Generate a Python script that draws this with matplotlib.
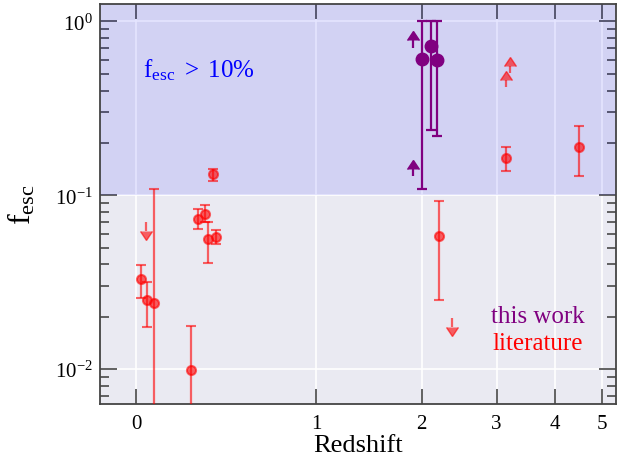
import numpy as np
import matplotlib.pyplot as plt
from matplotlib.ticker import NullLocator

plt.rcParams['font.family'] = 'Liberation Serif'
plt.rcParams['mathtext.fontset'] = 'custom'
plt.rcParams['mathtext.rm'] = 'Liberation Serif'
plt.rcParams['mathtext.it'] = 'Liberation Serif:italic'

# this work: measurements with error bars
tw_z = [2.00, 2.105, 2.175]
tw_f = [0.612, 0.718, 0.599]
tw_lo = [0.109, 0.239, 0.219]
tw_hi = [1.0, 1.0, 1.0]

# this work: lower limits
tw_lim_z = [1.90, 1.90]
tw_lim_f = [0.708, 0.129]

# literature: measurements with error bars
lit_z = [0.02, 0.043, 0.069, 0.234, 0.268, 0.302, 0.317, 0.343, 0.357, 2.20, 3.146, 4.50]
lit_f = [0.0328, 0.0249, 0.0239, 0.00987, 0.0734, 0.0777, 0.0558, 0.132, 0.0575, 0.0583, 0.163, 0.189]
lit_lo = [0.0258, 0.0175, 0.001, 0.001, 0.0637, 0.0702, 0.0406, 0.1204, 0.0522, 0.0249, 0.1387, 0.129]
lit_hi = [0.0397, 0.0318, 0.108, 0.0178, 0.0838, 0.0879, 0.0702, 0.1424, 0.0629, 0.0927, 0.190, 0.2495]

# literature: lower limits and upper limits
lit_ll_z = [3.21, 3.15]
lit_ll_f = [0.502, 0.417]
lit_ul_z = [0.0365, 2.376]
lit_ul_f = [0.0706, 0.0198]


def limit_arrows(ax, z, f, up, color, alpha=1.0, zorder=3):
    # short shaft + caret head, like errorbar limits but without the end cap
    fac = 1.1 if up else 0.88
    tip = np.multiply(f, fac)
    ax.vlines(z, f, tip, color=color, lw=1.6, alpha=alpha, zorder=zorder)
    ax.plot(z, tip, ls='none', marker=10 if up else 11, ms=8.5,
            color=color, alpha=alpha, zorder=zorder)


fig = plt.figure(figsize=(6.18, 4.6), dpi=100)
ax = fig.add_axes([100 / 618, 55 / 460, 515.5 / 618, 400 / 460])
ax.set_facecolor('#EAEAF2')
ax.set_axisbelow(True)

# redshift axis is linear in log(1+z)
ax.set_xscale('function', functions=(lambda z: np.log10(1 + z), lambda u: 10 ** u - 1))
ax.set_yscale('log')

ax.axhspan(0.1, 10, color='blue', alpha=0.1, lw=0, zorder=1)

ekw = dict(capsize=3.6, elinewidth=1.6, capthick=1.6)

# literature
ax.errorbar(lit_z, lit_f,
            yerr=[np.subtract(lit_f, lit_lo), np.subtract(lit_hi, lit_f)],
            fmt='o', color='red', alpha=0.6, ms=6.5, mew=1.5, zorder=3, **ekw)
limit_arrows(ax, lit_ll_z, lit_ll_f, True, 'red', alpha=0.6)
limit_arrows(ax, lit_ul_z, lit_ul_f, False, 'red', alpha=0.6)

# this work
ax.errorbar(tw_z, tw_f,
            yerr=[np.subtract(tw_f, tw_lo), np.subtract(tw_hi, tw_f)],
            fmt='o', color='purple', ms=9, zorder=4, **ekw)
limit_arrows(ax, tw_lim_z, tw_lim_f, True, 'purple', zorder=4)

ax.set_xlim(-0.13, 5.32)
ax.set_ylim(6.3e-3, 1.26)
ax.set_xticks([0, 1, 2, 3, 4, 5])
ax.set_xticklabels(['0', '1', '2', '3', '4', '5'])
ax.xaxis.set_minor_locator(NullLocator())

ax.grid(True, which='major', color='white', lw=1.2)
ax.tick_params(which='both', direction='in', top=True, right=True,
               color='#555555', width=1.3, labelsize=15, pad=5)
ax.tick_params(axis='x', which='major', length=10.5, pad=7)
ax.tick_params(axis='y', which='major', length=12)
ax.tick_params(axis='y', which='minor', length=6.5)
for sp in ax.spines.values():
    sp.set_color('#444444')
    sp.set_linewidth(1.3)

ax.set_xlabel('Redshift', fontsize=19, labelpad=1)
ax.set_ylabel(r'$\mathrm{f_{esc}}$', fontsize=23, labelpad=13)

ax.text(0.083, 0.82, r'$\mathrm{f_{esc}\ >\ 10\%}$', color='blue',
        fontsize=18, transform=ax.transAxes, va='baseline')
ax.text(0.85, 0.204, 'this work', color='purple', fontsize=18,
        transform=ax.transAxes, ha='center', va='baseline')
ax.text(0.85, 0.1375, 'literature', color='red', fontsize=18,
        transform=ax.transAxes, ha='center', va='baseline')

fig.savefig('out.png', dpi=100)
